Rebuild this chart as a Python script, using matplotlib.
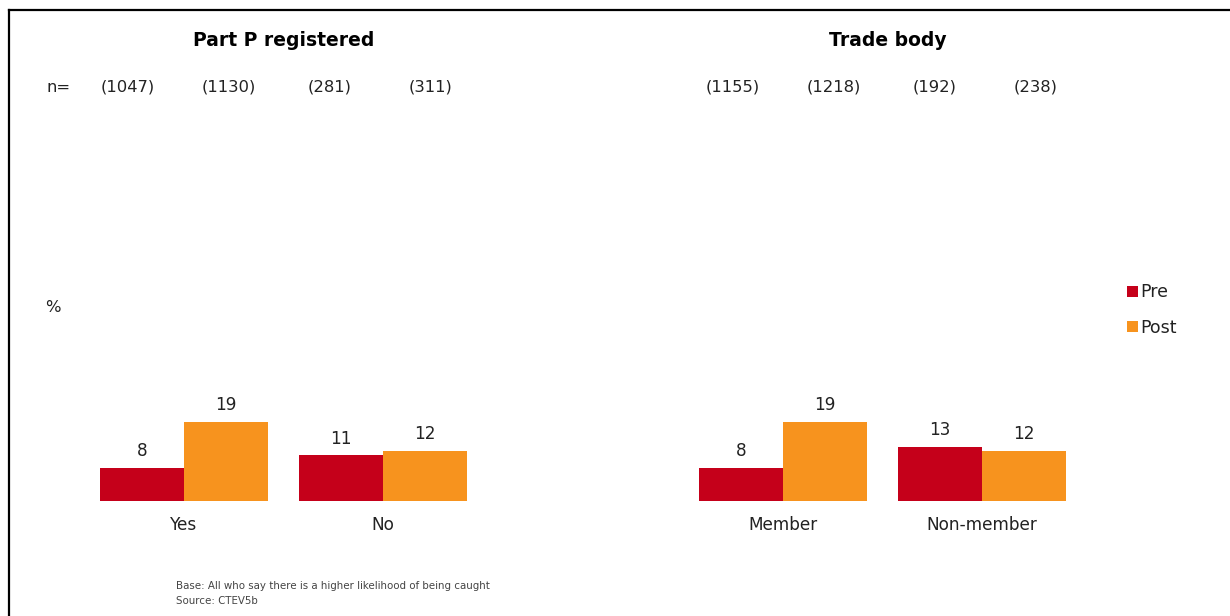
import matplotlib.pyplot as plt
from matplotlib.lines import Line2D

# Survey results, % saying more likely to be caught
panels = ["Part P registered", "Trade body"]
groups = [["Yes", "No"], ["Member", "Non-member"]]
pre = [[8, 11], [8, 13]]
post = [[19, 12], [19, 12]]
base_sizes = [["(1047)", "(1130)", "(281)", "(311)"],
              ["(1155)", "(1218)", "(192)", "(238)"]]
series = ["Pre", "Post"]

RED = "#C5001A"
ORANGE = "#F7931E"
TEXT = "#222222"
W, H = 1230, 616

plt.rcParams["font.family"] = "DejaVu Sans"
fig = plt.figure(figsize=(W / 100, H / 100), dpi=100)

def fx(px):
    return px / W

def fy(py):
    return 1 - py / H

# frame lines on top and left
fig.add_artist(Line2D([fx(9), 1], [fy(10), fy(10)], color="black", lw=1.6))
fig.add_artist(Line2D([fx(9), fx(9)], [fy(10), 0], color="black", lw=1.6))

unit = 199          # pixels between group centres
bar_w = 0.42
ylim = 40
px_per_val = 79 / 19
ax_h = ylim * px_per_val
first_centre = [184, 783]
title_x = [284, 888]

handles = None
for k in range(2):
    left_px = first_centre[k] - 0.8 * unit
    ax = fig.add_axes([fx(left_px), fy(501), 2.6 * unit / W, ax_h / H])
    ax.set_xlim(-0.8, 1.8)
    ax.set_ylim(0, ylim)
    ax.axis("off")
    x = range(len(groups[k]))
    b1 = ax.bar([i - bar_w / 2 for i in x], pre[k], bar_w, color=RED, linewidth=0)
    b2 = ax.bar([i + bar_w / 2 for i in x], post[k], bar_w, color=ORANGE, linewidth=0)
    handles = [b1, b2]
    for bars in (b1, b2):
        for r in bars:
            ax.annotate(f"{r.get_height():g}",
                        (r.get_x() + r.get_width() / 2, r.get_height()),
                        xytext=(0, 12), textcoords="offset points",
                        ha="center", va="center", fontsize=12.2, color=TEXT)
    for i, g in enumerate(groups[k]):
        ax.annotate(g, (i, 0), xytext=(0, -17), textcoords="offset points",
                    ha="center", va="center", fontsize=12.2, color=TEXT)
    fig.text(fx(title_x[k]), fy(40), panels[k],
             ha="center", va="center", fontsize=13.5, fontweight="bold", color="black")
    for j, n in enumerate(base_sizes[k]):
        fig.text(fx(128 + 605 * k + 101 * j), fy(87), n,
                 ha="center", va="center", fontsize=11.8, color=TEXT)

fig.text(fx(46), fy(87), "n=", ha="left", va="center", fontsize=11.8, color=TEXT)
fig.text(fx(45), fy(308), "%", ha="left", va="center", fontsize=11.8, color=TEXT)

fig.legend(handles, series, loc="center left", bbox_to_anchor=(fx(1127), fy(310)),
           frameon=False, fontsize=12.5, handlelength=0.62, handleheight=0.62,
           handletextpad=0.12, labelspacing=0.98, borderpad=0, borderaxespad=0,
           labelcolor=TEXT)

fig.text(fx(176), fy(586), "Base: All who say there is a higher likelihood of being caught",
         ha="left", va="center", fontsize=7.4, color="#444444")
fig.text(fx(176), fy(601), "Source: CTEV5b",
         ha="left", va="center", fontsize=7.4, color="#444444")

fig.savefig("out.png", dpi=100)
